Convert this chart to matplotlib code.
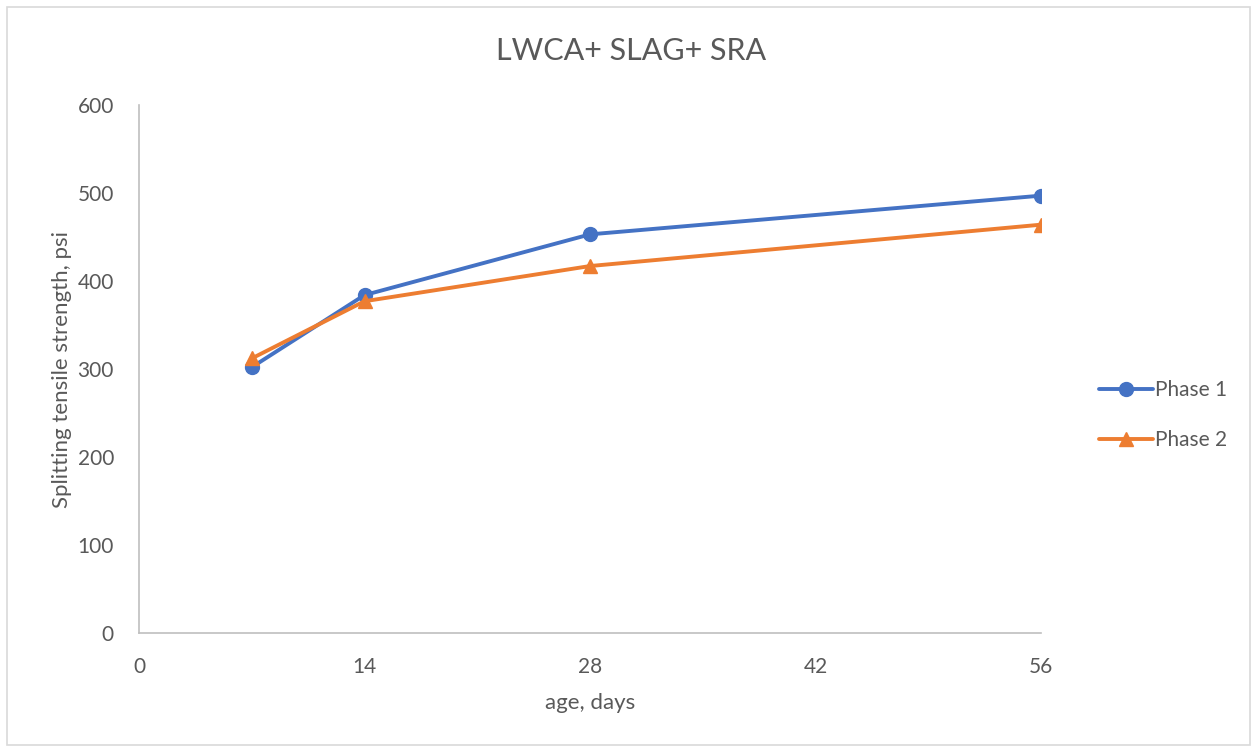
import matplotlib
matplotlib.use("Agg")
import matplotlib.pyplot as plt
from matplotlib.patches import Rectangle

# Curing age and splitting tensile strength for each phase
age_days = [7, 14, 28, 56]
phase1_psi = [302, 384, 453, 497]
phase2_psi = [312, 377, 417, 464]
x_ticks = [0, 14, 28, 42, 56]
y_ticks = [0, 100, 200, 300, 400, 500, 600]

plt.rcParams['font.family'] = ['Lato', 'DejaVu Sans']
text_color = '#595959'
axis_color = '#BFBFBF'

fig = plt.figure(figsize=(12.53, 7.48), dpi=100)
fig.patches.append(Rectangle((7 / 1253, 3 / 748), 1243 / 1253, 738 / 748,
                             transform=fig.transFigure, fill=False,
                             edgecolor='#D9D9D9', linewidth=1.2))

ax = fig.add_axes([139 / 1253, 115 / 748, 902 / 1253, 528 / 748])
ax.plot(age_days, phase1_psi, color='#4472C4', linewidth=2.8, marker='o',
        markersize=10, label='Phase 1', solid_capstyle='round')
ax.plot(age_days, phase2_psi, color='#ED7D31', linewidth=2.8, marker='^',
        markersize=10, label='Phase 2', solid_capstyle='round')

ax.set_xlim(0, 56)
ax.set_ylim(0, 600)
ax.set_xticks(x_ticks)
ax.set_yticks(y_ticks)
ax.tick_params(length=0, labelsize=15, labelcolor=text_color)
ax.tick_params(axis='x', pad=17)
ax.tick_params(axis='y', pad=18)
for side in ('top', 'right'):
    ax.spines[side].set_visible(False)
for side in ('left', 'bottom'):
    ax.spines[side].set_color(axis_color)
    ax.spines[side].set_linewidth(1.2)

ax.set_xlabel('age, days', fontsize=16, color=text_color, labelpad=12)
ax.set_ylabel('Splitting tensile strength, psi', fontsize=16,
              color=text_color, labelpad=4)
fig.text(631 / 1253, 1 - 51 / 748, 'LWCA+ SLAG+ SRA', fontsize=22,
         color=text_color, ha='center', va='center')

leg = fig.legend(loc='center left', bbox_to_anchor=(1080 / 1253, 1 - 415 / 748),
                 frameon=False, fontsize=15, handlelength=2.6,
                 handletextpad=0.1, labelspacing=1.45)
for t in leg.get_texts():
    t.set_color(text_color)

fig.savefig('out.png', dpi=100)
